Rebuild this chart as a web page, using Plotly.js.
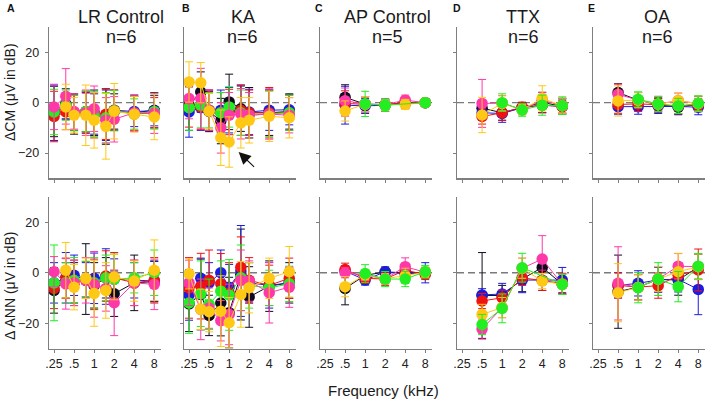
<!DOCTYPE html>
<html><head><meta charset="utf-8">
<script src="https://cdn.plot.ly/plotly-3.0.1.min.js"></script>
<style>html,body{margin:0;padding:0;background:#fff}#chart{width:708px;height:401px}</style>
</head><body><div id="chart"></div>
<script>
// Frequencies (kHz)
const freqsFull = [0.25, 0.375, 0.5, 0.75, 1, 1.5, 2, 4, 8];
const freqsShort = [0.5, 1, 2, 4, 8];
const tickVals = [0.25, 0.5, 1, 2, 4, 8];
const tickText = ['.25', '.5', '1', '2', '4', '8'];
const seriesNames = ['black', 'blue', 'red', 'green', 'magenta', 'yellow'];
const seriesColors = ['#0c0c1e', '#1c1ce0', '#ee1212', '#22ee22', '#ff38aa', '#ffc814'];
const panelTitles = ['LR Control', 'KA', 'AP Control', 'TTX', 'OA'];
const panelN = ['n=6', 'n=6', 'n=5', 'n=6', 'n=6'];
const panelLetters = ['A', 'B', 'C', 'D', 'E'];

// Row order in every table: black, blue, red, green, magenta, yellow
// A: LR Control
const lrCm = [
  [-3.5, -0.5, -4.5, -3.5, -4.0, -5.5, -3.5, -4.0, -3.0],
  [-4.0, -1.5, -4.0, -4.0, -4.5, -5.0, -3.0, -3.5, -3.2],
  [-5.5, -3.7, -4.0, -4.2, -5.0, -4.6, -3.0, -4.5, -4.0],
  [-3.7, -1.0, -4.2, -3.5, -4.5, -6.0, -3.2, -4.5, -3.5],
  [-1.7, 2.5, -3.5, -4.0, -2.4, -7.0, -6.6, -4.0, -4.2],
  [null, -1.7, -5.0, -5.0, -7.0, -9.4, -3.4, -4.6, -5.7]
];
const lrCmErr = [
  [10, 6, 8, 8, 9, 11, 7, 7, 7],
  [11, 5, 7, 8, 8, 10, 8, 6, 6],
  [10, 7, 7, 8, 9, 10, 8, 7, 6],
  [9, 6, 7, 8, 9, 10, 8, 6, 7],
  [9, 11, 7, 9, 9, 9, 9, 7, 8],
  [null, 9, 7, 12, 11, 13, 11, 7, 9]
];
const lrAnn = [
  [-7.0, -3.0, -4.0, -2.5, -5.0, -2.0, -8.3, -4.0, -3.5],
  [-4.0, -2.0, -1.0, -3.0, -2.2, -1.5, -2.5, -3.0, -3.3],
  [-6.2, -2.2, -4.0, -2.5, -4.6, -1.3, -2.0, -4.0, -3.0],
  [-4.0, -4.0, -3.0, -2.5, -4.0, -2.0, -2.6, -2.0, 0.0],
  [0.4, -4.4, -4.0, -3.0, -4.6, -6.2, -11.9, -4.0, -4.6],
  [null, 1.0, -5.7, -2.2, -8.2, -7.0, -1.7, -3.3, 1.0]
];
const lrAnnErr = [
  [9, 7, 8, 14, 9, 8, 9, 11, 8],
  [8, 10, 8, 7, 10, 11, 8, 7, 8],
  [8, 8, 9, 7, 10, 10, 10, 9, 9],
  [15, 8, 9, 7, 10, 9, 10, 6, 9],
  [6, 10, 9, 9, 13, 9, 13, 9, 10],
  [null, 11, 9, 8, 13, 11, 9, 8, 12]
];
// B: KA
const kaCm = [
  [-1.0, 4.2, -3.5, -7.3, 0.3, -2.4, -4.0, -4.0, -3.5],
  [-3.7, -2.0, -3.0, -3.0, -3.0, -3.0, -3.7, -3.0, -2.8],
  [-1.7, -1.7, -3.0, -4.0, -3.7, -3.0, -4.0, -4.0, -4.0],
  [-2.0, -1.0, -3.0, -4.0, -1.7, -4.0, -5.0, -4.5, -4.0],
  [1.6, 1.6, -3.0, -10.0, -5.0, -4.4, -5.0, -4.5, -5.0],
  [8.2, 7.9, -3.4, -13.9, -15.6, -8.0, -7.0, -5.4, -6.0]
];
const kaCmErr = [
  [10, 8, 8, 9, 11, 9, 10, 9, 7],
  [10, 9, 8, 8, 9, 10, 9, 8, 6],
  [8, 9, 8, 8, 9, 10, 9, 10, 7],
  [9, 9, 7, 8, 8, 9, 9, 9, 7],
  [8, 12, 8, 10, 9, 10, 9, 10, 7],
  [8, 8, 7, 11, 10, 10, 9, 10, 8]
];
const kaAnn = [
  [-12.3, -8.6, -16.9, -12.0, -15.8, -0.7, -9.6, -5.3, -4.0],
  [-8.8, -2.2, -4.0, 0.0, -5.7, 0.7, -4.0, -5.0, -4.0],
  [-6.0, -5.3, -3.0, -4.4, -8.0, 2.2, -3.0, -5.0, -2.2],
  [-12.0, -8.3, -12.5, -7.3, -8.8, -2.0, -5.0, -6.0, -4.4],
  [-4.0, -14.5, -14.0, -19.0, -16.5, -3.0, -3.3, -7.9, -5.7],
  [-0.4, -14.5, -15.4, -15.2, -19.8, -8.6, -5.9, -2.2, 0.4]
];
const kaAnnErr = [
  [11, 14, 8, 13, 14, 18, 12, 10, 8],
  [10, 8, 8, 9, 9, 18, 8, 9, 6],
  [12, 13, 12, 12, 12, 12, 9, 8, 8],
  [12, 13, 10, 12, 14, 13, 9, 7, 7],
  [9, 12, 8, 8, 12, 12, 8, 12, 8],
  [6, 8, 8, 14, 10, 13, 10, 8, 10]
];
// C: AP Control
const apCm = [
  [2.1, -0.6, -0.8, 0.0, 0.0],
  [-1.0, -1.3, -1.0, -0.3, 0.0],
  [-0.3, -0.7, -0.8, 0.0, 0.0],
  [null, -0.5, -1.0, null, 0.0],
  [0.8, -0.6, -0.8, 1.0, 0.0],
  [-3.3, -0.6, -0.9, -0.7, 0.0]
];
const apCmErr = [
  [5, 3, 2, 2, 1.5],
  [7.5, 3, 2.5, 2, 1.5],
  [5, 3, 2, 2, 1.5],
  [null, 5, 2.5, null, 1.5],
  [5, 3, 2, 2, 1.5],
  [4, 3, 2, 2, 1.5]
];
const apAnn = [
  [-6.2, -1.0, 0.3, 0.0, 0.0],
  [0.7, -2.9, 0.4, -0.5, 0.0],
  [1.3, -2.2, -2.5, 1.0, -0.7],
  [null, -0.3, -2.5, -2.5, 0.4],
  [0.0, -1.0, -2.4, 2.4, 0.2],
  [-5.5, -0.8, -2.4, -1.2, 0.2]
];
const apAnnErr = [
  [6.5, 2, 2, 2, 2],
  [2, 2, 1.5, 3, 4],
  [2.5, 2, 2.5, 2, 2],
  [null, 3.5, 3, 3, 2.5],
  [2, 2, 2, 3.5, 2],
  [4, 2, 2, 3, 2]
];
// D: TTX
const ttxCm = [
  [-2.2, -4.0, -2.0, 0.1, -1.5],
  [-4.0, -4.3, -2.0, -1.0, -1.4],
  [-5.5, -4.0, -1.8, -1.0, -1.6],
  [null, 0.0, -2.9, -1.0, -1.2],
  [-0.3, -0.2, -2.8, 1.0, -1.2],
  [-4.9, -0.3, -2.8, 1.7, -1.2]
];
const ttxCmErr = [
  [3, 3, 2, 4, 3],
  [3, 3.5, 2, 3, 3],
  [3, 3, 2, 3, 2.5],
  [null, 3.5, 2.5, 4, 3.5],
  [9.5, 3, 2, 3, 3],
  [7, 3, 2, 5, 3]
];
const ttxAnn = [
  [-9.0, -9.0, -2.5, 2.1, -4.5],
  [-8.8, -8.4, -2.9, -3.0, -2.9],
  [-11.2, -9.9, -2.0, -3.0, -4.2],
  [-20.5, -14.1, 2.0, null, -4.6],
  [-22.3, -13.8, 1.8, 5.4, -4.6],
  [-16.5, -13.8, 1.8, -3.3, -4.6]
];
const ttxAnnErr = [
  [17, 4, 5, 4, 4],
  [2.5, 4.2, 5, 4, 5],
  [3, 3, 3, 4, 4],
  [4, 5.7, 5.7, null, 4],
  [4, 4, 4, 9.3, 4],
  [4, 4, 4, 3, 4]
];
// E: OA
const oaCm = [
  [4.0, 1.0, -0.8, -1.8, -0.6],
  [-1.6, -1.6, -1.3, -1.5, -1.8],
  [-0.7, -0.5, -0.8, -1.4, -1.0],
  [null, 1.3, -0.5, -1.3, -0.3],
  [3.3, 1.0, -0.5, 0.8, -0.4],
  [0.7, 1.0, -0.6, 0.8, -0.4]
];
const oaCmErr = [
  [3.5, 3, 3, 3, 3],
  [3, 3, 3, 3, 3],
  [3.5, 3, 2.5, 3, 2.5],
  [null, 3, 3, 3, 3],
  [4, 3, 3, 3, 3],
  [6, 3, 3, 3, 3]
];
const oaAnn = [
  [-7.5, -5.7, -2.6, -2.9, 2.3],
  [-5.0, -4.2, -2.8, -2.6, -6.6],
  [-5.0, -5.7, -5.1, -1.0, 1.1],
  [null, -5.9, -2.5, -5.5, 2.6],
  [-4.2, -5.8, -2.5, 2.6, 2.4],
  [-7.9, -5.8, -2.5, 0.4, 2.4]
];
const oaAnnErr = [
  [14.5, 5, 5, 6, 5],
  [5, 5, 5, 5, 10],
  [5, 5, 5, 5, 8.3],
  [null, 6, 6.5, 6, 5],
  [14.5, 5, 5, 5, 5],
  [11.5, 5, 5, 7.3, 5]
];

const orderAB = [0, 1, 2, 3, 4, 5];
const orderCDE = [0, 1, 2, 4, 5, 3];

const FONT = 'Arial, "Liberation Sans", sans-serif';
const W = 708, H = 401;
const colLeftPx = [49, 184, 320, 457, 593];
const colWidthPx = 112;
const titleCenterPx = [121, 243, 387, 523, 657];
const letterCenterPx = [11, 186, 319, 457, 591];
const topRowPx = [27, 178.3];
const botRowPx = [197, 348.5];

const panels = [
  {freqs: freqsFull, cm: lrCm, cmErr: lrCmErr, ann: lrAnn, annErr: lrAnnErr, order: orderAB},
  {freqs: freqsFull, cm: kaCm, cmErr: kaCmErr, ann: kaAnn, annErr: kaAnnErr, order: orderAB},
  {freqs: freqsShort, cm: apCm, cmErr: apCmErr, ann: apAnn, annErr: apAnnErr, order: orderCDE},
  {freqs: freqsShort, cm: ttxCm, cmErr: ttxCmErr, ann: ttxAnn, annErr: ttxAnnErr, order: orderCDE},
  {freqs: freqsShort, cm: oaCm, cmErr: oaCmErr, ann: oaAnn, annErr: oaAnnErr, order: orderCDE}
];

const traces = [];
const layout = {
  width: W, height: H,
  margin: {l: 0, r: 0, t: 0, b: 0},
  paper_bgcolor: '#fff', plot_bgcolor: 'rgba(0,0,0,0)',
  showlegend: false,
  font: {family: FONT, color: '#222', size: 12.5},
  shapes: [], annotations: []
};

function axisId(k) { return k === 1 ? '' : String(k); }

panels.forEach((p, i) => {
  const x0 = colLeftPx[i] / W, x1 = (colLeftPx[i] + colWidthPx) / W;
  [[p.cm, p.cmErr, topRowPx, true], [p.ann, p.annErr, botRowPx, false]].forEach((row, r) => {
    const [vals, errs, rowPx, isTop] = row;
    const k = i + 1 + r * 5;
    const id = axisId(k);
    layout['xaxis' + id] = {
      domain: [x0, x1], anchor: 'y' + id, type: 'log',
      range: [Math.log10(0.21), Math.log10(10.1)],
      tickvals: tickVals, ticktext: tickText, showticklabels: !isTop,
      ticks: 'outside', ticklen: 3, tickwidth: 1, tickcolor: '#7f7f7f',
      showline: true, linecolor: '#7f7f7f', linewidth: 1.3,
      showgrid: false, zeroline: false,
      tickfont: {family: FONT, size: 12.5, color: '#222'}
    };
    layout['yaxis' + id] = {
      domain: [1 - rowPx[1] / H, 1 - rowPx[0] / H], anchor: 'x' + id,
      range: [-30, 30], tickvals: [-20, 0, 20], showticklabels: i === 0,
      ticks: 'outside', ticklen: 3, tickwidth: 1, tickcolor: '#7f7f7f',
      showline: true, linecolor: '#7f7f7f', linewidth: 1.3,
      showgrid: false, zeroline: false, ticklabelstandoff: 3,
      tickfont: {family: FONT, size: 12.5, color: '#222'}
    };
    layout.shapes.push({
      type: 'line', xref: 'x' + id + ' domain', yref: 'y' + id,
      x0: 0, x1: 1, y0: 0, y1: 0, layer: 'below',
      line: {color: '#7a7a7a', width: 1.4, dash: '7px,4px'}
    });
    p.order.forEach(s => {
      traces.push({
        type: 'scatter', mode: 'lines+markers', name: seriesNames[s],
        x: p.freqs, y: vals[s], xaxis: 'x' + id, yaxis: 'y' + id,
        connectgaps: true,
        line: {color: seriesColors[s], width: 1},
        marker: {color: seriesColors[s], size: 11.5, line: {width: 0}},
        error_y: {type: 'data', array: errs[s], symmetric: true, visible: true,
                  color: seriesColors[s], thickness: 1, width: 4},
        hoverinfo: 'skip'
      });
    });
  });
  layout.annotations.push(
    {text: panelTitles[i], xref: 'paper', yref: 'paper', x: titleCenterPx[i] / W, y: 1 - 17.1 / H,
     xanchor: 'center', yanchor: 'middle', showarrow: false, font: {family: FONT, size: 18, color: '#1a1a1a'}},
    {text: panelN[i], xref: 'paper', yref: 'paper', x: titleCenterPx[i] / W, y: 1 - 37.1 / H,
     xanchor: 'center', yanchor: 'middle', showarrow: false, font: {family: FONT, size: 18, color: '#1a1a1a'}},
    {text: '<b>' + panelLetters[i] + '</b>', xref: 'paper', yref: 'paper', x: letterCenterPx[i] / W, y: 1 - 7.5 / H,
     xanchor: 'center', yanchor: 'middle', showarrow: false, font: {family: FONT, size: 10.5, color: '#111'}}
  );
});

layout.annotations.push(
  {text: '\u0394CM (\u03bcV in dB)', xref: 'paper', yref: 'paper', x: 10 / W, y: 1 - 92 / H,
   textangle: -90, xanchor: 'center', yanchor: 'middle', showarrow: false,
   font: {family: FONT, size: 14, color: '#1a1a1a'}},
  {text: '\u0394 ANN (\u03bcV in dB)', xref: 'paper', yref: 'paper', x: 10 / W, y: 1 - 286 / H,
   textangle: -90, xanchor: 'center', yanchor: 'middle', showarrow: false,
   font: {family: FONT, size: 14, color: '#1a1a1a'}},
  {text: 'Frequency (kHz)', xref: 'paper', yref: 'paper', x: 383 / W, y: 1 - 390 / H,
   xanchor: 'center', yanchor: 'middle', showarrow: false,
   font: {family: FONT, size: 15, color: '#1a1a1a'}},
  {text: '', xref: 'x2', yref: 'y2', x: Math.log10(1.39), y: -19.6,
   axref: 'x2', ayref: 'y2', ax: Math.log10(2.5), ay: -26,
   showarrow: true, arrowhead: 2, arrowsize: 2.2, arrowwidth: 1.1, arrowcolor: '#111', standoff: 0}
);

Plotly.newPlot('chart', traces, layout, {staticPlot: true, displayModeBar: false});
</script>
</body></html>
